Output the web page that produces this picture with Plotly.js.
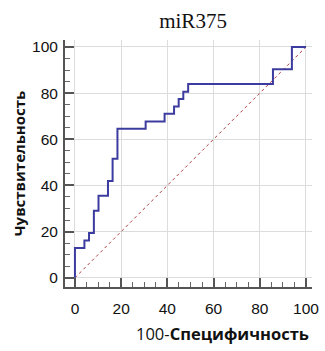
<!DOCTYPE html>
<html><head><meta charset="utf-8">
<script src="https://cdn.plot.ly/plotly-3.0.1.min.js"></script>
<style>body{margin:0;padding:0;background:#fff}#chart{width:325px;height:351px}</style>
</head><body><div id="chart"></div>
<script>
// ROC curve vertices (100-Specificity, Sensitivity)
const fpr = [0, 0, 4.1, 4.1, 6.1, 6.1, 8.2, 8.2, 10.2, 10.2, 14.3, 14.3, 16.3, 16.3, 18.4, 18.4, 30.6, 30.6, 38.8, 38.8, 42.9, 42.9, 44.9, 44.9, 46.9, 46.9, 49.0, 49.0, 85.7, 85.7, 93.9, 93.9, 100];
const tpr = [0, 12.9, 12.9, 16.1, 16.1, 19.4, 19.4, 29.0, 29.0, 35.5, 35.5, 41.9, 41.9, 51.6, 51.6, 64.5, 64.5, 67.7, 67.7, 71.0, 71.0, 74.2, 74.2, 77.4, 77.4, 80.6, 80.6, 83.9, 83.9, 90.3, 90.3, 100, 100];
const diagX = [0, 100];
const diagY = [0, 100];
const tickVals = [0, 20, 40, 60, 80, 100];
const tickText = ['0', '20', '40', '60', '80', '100'];

const axisCommon = {
  tickvals: tickVals, ticktext: tickText,
  ticks: 'inside', ticklen: 9, tickwidth: 2, tickcolor: '#555',
  minor: {dtick: 5, ticks: 'inside', ticklen: 5, tickwidth: 1, tickcolor: '#666', showgrid: false},
  showline: true, linecolor: '#555', linewidth: 2,
  showgrid: true, gridcolor: '#dcdcdc', gridwidth: 1,
  zeroline: false,
  tickfont: {family: 'Liberation Sans, Arial', size: 15.5, color: '#111'}
};

Plotly.newPlot('chart', [
  {x: diagX, y: diagY, mode: 'lines', line: {color: '#b04040', width: 1, dash: 'dot'}, hoverinfo: 'skip'},
  {x: fpr, y: tpr, mode: 'lines', line: {color: '#3c3ca0', width: 2}, hoverinfo: 'skip'}
], {
  width: 325, height: 351,
  margin: {l: 65, r: 13, t: 40, b: 64},
  paper_bgcolor: '#fff', plot_bgcolor: '#fff',
  showlegend: false,
  title: {text: 'miR375', font: {family: 'Liberation Serif, Times New Roman', size: 21, color: '#111'}, x: 0.594, xanchor: 'center', y: 0.94, yanchor: 'middle'},
  xaxis: Object.assign({}, axisCommon, {range: [-4.3, 102.6], ticklabelstandoff: 6}),
  yaxis: Object.assign({}, axisCommon, {range: [-4, 103], ticklabelstandoff: 2,
    title: {text: '<b>Чувствительность</b>', font: {family: 'Open Sans, Noto Sans', size: 15, color: '#111'}, standoff: 3}}),
  annotations: [{
    text: '100-<b>Специфичность</b>', xref: 'paper', yref: 'paper', x: 0.636, y: -0.19,
    xanchor: 'center', yanchor: 'middle', showarrow: false,
    font: {family: 'Open Sans, Noto Sans', size: 16.5, color: '#111'}
  }]
}, {staticPlot: true});
</script></body></html>
